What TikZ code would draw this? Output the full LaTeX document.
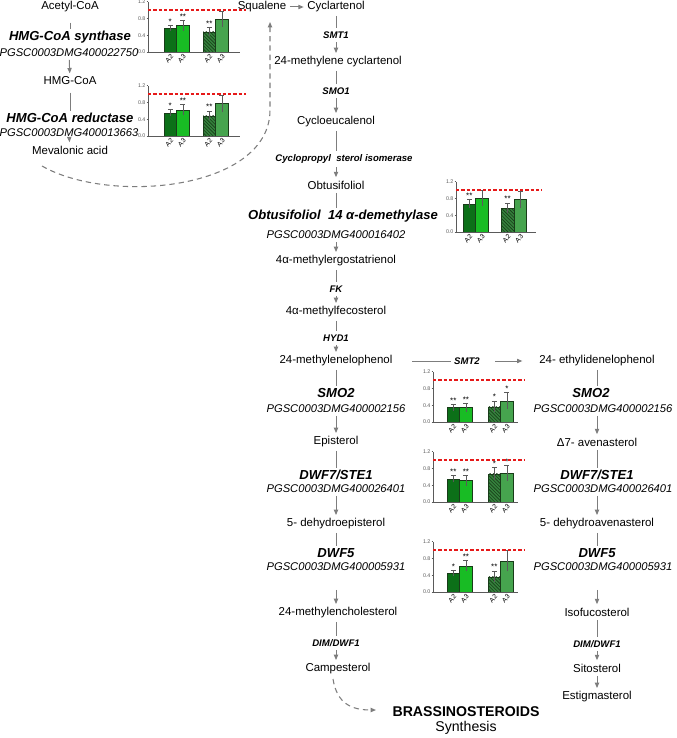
\documentclass[tikz,border=0pt]{standalone}
\usepackage{fontspec}
\setmainfont{Liberation Sans}
\usetikzlibrary{arrows.meta}
\definecolor{gc0}{RGB}{12,112,24}
\definecolor{gc1}{RGB}{24,188,36}
\definecolor{gc2}{RGB}{52,130,60}
\definecolor{gc3}{RGB}{70,164,78}
\definecolor{gO}{RGB}{25,60,25}
\definecolor{cn}{RGB}{125,125,125}
\definecolor{refred}{RGB}{230,25,25}
\definecolor{tickc}{RGB}{90,90,90}
\tikzset{
 met/.style={font=\fontsize{8.6}{10}\selectfont, inner sep=2.5pt},
 enz/.style={font=\fontsize{9.8}{11}\selectfont\bfseries\itshape, inner sep=1.5pt},
 gene/.style={font=\fontsize{8.4}{10}\selectfont\itshape, inner sep=2pt},
 lab/.style={font=\fontsize{7.2}{8}\selectfont\bfseries\itshape, inner sep=2.5pt},
 ln/.style={draw=cn, line width=0.75pt},
 ar/.style={ln, -{Triangle[length=4pt,width=3.2pt]}},
 dashar/.style={draw=cn, line width=0.8pt, dash pattern=on 4pt off 3pt, -{Triangle[length=4pt,width=3.2pt]}},
 axisc/.style={draw=tickc, line width=0.5pt},
 ticklab/.style={font=\fontsize{4}{4}\selectfont, text=tickc, anchor=east, inner sep=0.6pt},
 xlab/.style={font=\fontsize{5}{6}\selectfont, rotate=45, anchor=east, inner sep=0.5pt},
 starlab/.style={font=\fontsize{6}{6}\selectfont, anchor=south, inner sep=0.5pt},
 errc/.style={draw=tickc, line width=0.5pt},
 refl/.style={draw=refred, line width=1.1pt, dash pattern=on 2.5pt off 1.5pt},
 barb/.style={draw=gO, line width=0.4pt},
 hatchl/.style={draw=gO, line width=0.45pt},
}
% #1 x0, #2 y0 (zero line), #3 offset of first bar, #4 offset of second pair, #5 axis length, #6 list
\newcommand{\gchart}[6]{%
\begin{scope}[shift={(#1,#2)}]
 \foreach \va/\ve/\vs [count=\bi from 0] in {#6}{%
  \pgfmathsetmacro\bx{#3+mod(\bi,2)*12.6+(\bi>1)*(#4-#3)}%
  \pgfmathsetmacro\cx{\bx+6.3}%
  \fill[fill=gc\bi] (\bx,0) rectangle ({\bx+12.6},{-\va*42});
  \ifnum\bi=2
   \begin{scope}
    \clip (\bx,0) rectangle ({\bx+12.6},{-\va*42});
    \foreach \h in {0,3.4,...,60} {\draw[hatchl] ({\bx+\h},0) -- ++(-45,-45);}
   \end{scope}
  \fi
  \draw[barb] (\bx,0) rectangle ({\bx+12.6},{-\va*42});
  \draw[errc] (\cx,{-(\va-\ve)*42}) -- (\cx,{-(\va+\ve)*42})
              ({\cx-2.5},{-(\va+\ve)*42}) -- ({\cx+2.5},{-(\va+\ve)*42});
  \node[starlab] at (\cx,{-(\va+\ve)*42-0.5}) {\vs};
  \node[xlab] at ({\cx+2.5},3) {\ifodd\bi A3\else A2\fi};
 }
 \draw[axisc] (0,0) -- (0,-50.4);
 \draw[axisc] (0,0) -- (#5,0);
 \foreach \t in {0.0,0.4,0.8,1.2}{%
  \draw[axisc] (-1.5,-\t*42) -- (0,-\t*42);
  \node[ticklab] at (-1.5,-\t*42) {\t};
 }
 \draw[refl] (0,-42) -- ({#5+6},-42);
\end{scope}}

\begin{document}
\begin{tikzpicture}[x=0.75pt,y=-0.75pt]
\useasboundingbox (0,0) rectangle (676,738);

% left column
\node[met] (acet) at (70,7) {Acetyl-CoA};
\node[enz] (hmgs) at (70,37) {HMG-CoA synthase};
\node[gene] (g1) at (69,53) {PGSC0003DMG400022750};
\node[met] (hmgcoa) at (70,81) {HMG-CoA};
\node[enz] (hmgr) at (70,118) {HMG-CoA reductase};
\node[gene] (g2) at (69,133) {PGSC0003DMG400013663};
\node[met] (mev) at (70,150) {Mevalonic acid};

% middle column
\node[met] (squa) at (262,7) {Squalene};
\node[met] (cycl) at (336,7) {Cyclartenol};
\node[lab] (smt1) at (336,35) {SMT1};
\node[met] (mcyc) at (338,62) {24-methylene cyclartenol};
\node[lab] (smo1) at (336,91) {SMO1};
\node[met] (cyce) at (336,122) {Cycloeucalenol};
\node[lab] (cpsi) at (344,159) {Cyclopropyl\ \ sterol isomerase};
\node[met] (obt) at (336,185) {Obtusifoliol};
\node[enz] (dem) at (343,216) {Obtusifoliol\ \ 14\ α-demethylase};
\node[gene] (g3) at (336,235) {PGSC0003DMG400016402};
\node[met] (merg) at (336,261) {4α-methylergostatrienol};
\node[lab] (fk) at (336,289) {FK};
\node[met] (mfec) at (336,312) {4α-methylfecosterol};
\node[lab] (hyd1) at (336,338) {HYD1};
\node[met] (loph) at (336,361) {24-methylenelophenol};
\node[enz] (smo2) at (336,393) {SMO2};
\node[gene] (g4) at (336,409) {PGSC0003DMG400002156};
\node[met] (epi) at (336,442) {Episterol};
\node[enz] (dwf7) at (336,475) {DWF7/STE1};
\node[gene] (g5) at (336,489) {PGSC0003DMG400026401};
\node[met] (dhe) at (336,524) {5- dehydroepisterol};
\node[enz] (dwf5) at (336,553) {DWF5};
\node[gene] (g6) at (336,567) {PGSC0003DMG400005931};
\node[met] (mch) at (338,613) {24-methylencholesterol};
\node[lab] (dim) at (336,643) {DIM/DWF1};
\node[met] (camp) at (338,669) {Campesterol};
\node[font=\fontsize{10.6}{12}\selectfont\bfseries, inner sep=1pt] (brass) at (466,712) {BRASSINOSTEROIDS};
\node[font=\fontsize{10.6}{12}\selectfont, inner sep=1pt] (synth) at (466,728) {Synthesis};

% right column
\node[lab] (smt2) at (467,361) {SMT2};
\node[met] (ethl) at (597,361) {24- ethylidenelophenol};
\node[enz] (smo2r) at (591,393) {SMO2};
\node[gene] (g4r) at (603,409) {PGSC0003DMG400002156};
\node[met] (ave) at (597,442) {Δ7- avenasterol};
\node[enz] (dwf7r) at (597,475) {DWF7/STE1};
\node[gene] (g5r) at (603,489) {PGSC0003DMG400026401};
\node[met] (dha) at (597,524) {5- dehydroavenasterol};
\node[enz] (dwf5r) at (597,553) {DWF5};
\node[gene] (g6r) at (603,567) {PGSC0003DMG400005931};
\node[met] (isof) at (597,612) {Isofucosterol};
\node[lab] (dimr) at (597,644) {DIM/DWF1};
\node[met] (sito) at (597,668) {Sitosterol};
\node[met] (estg) at (597,697) {Estigmasterol};

% left connectors
\draw[ln, shorten <=5pt] (acet) -- (hmgs);
\draw[ar] (g1) -- (hmgcoa);
\draw[ln, shorten <=3pt] (hmgcoa) -- (hmgr);
\draw[ar] (g2) -- (mev);

% middle connectors
\draw[ar] (squa) -- (cycl);
\draw[ln] (cycl) -- (smt1);
\draw[ar] (smt1) -- (smt1 |- mcyc.north);
\draw[ln] (smt1 |- mcyc.south) -- (smo1);
\draw[ar] (smo1) -- (cyce);
\draw[ln] (cyce) -- (cyce |- cpsi.north);
\draw[ar] (cyce |- cpsi.south) -- (obt);
\draw[ln] (obt) -- (obt |- dem.north);
\draw[ar] (g3) -- (merg);
\draw[ln] (merg) -- (fk);
\draw[ar] (fk) -- (mfec);
\draw[ln] (mfec) -- (hyd1);
\draw[ar] (hyd1) -- (loph);
\draw[ln] (loph) -- (smo2);
\draw[ar] (g4) -- (epi);
\draw[ln] (epi) -- (dwf7);
\draw[ar] (g5) -- (dhe);
\draw[ln] (dhe) -- (dwf5);
\draw[ar, shorten <=12pt] (g6) -- (g6 |- mch.north);
\draw[ln] (g6 |- mch.south) -- (dim);
\draw[ar] (dim) -- (dim |- camp.north);

% horizontal SMT2
\draw[ln, shorten <=12pt] (loph.east) -- (smt2.west);
\draw[ar, shorten <=9pt, shorten >=10pt] (smt2.east) -- (ethl.west);

% right connectors
\draw[ln] (ethl) -- (ethl |- smo2r.north);
\draw[ar] (ethl |- g4r.south) -- (ave);
\draw[ln] (ave) -- (dwf7r);
\draw[ar] (ave |- g5r.south) -- (dha);
\draw[ln] (dha) -- (dwf5r);
\draw[ar, shorten <=12pt] (isof |- g6r.south) -- (isof);
\draw[ln] (isof) -- (dimr);
\draw[ar] (dimr) -- (sito);
\draw[ar] (sito) -- (estg);

% dashed connectors
\coordinate (mevs) at (42,166);
\coordinate (sqin) at (270,22);
\draw[dashar] (mevs) .. controls (110,205) and (270,190) .. (270,110) -- (sqin);
\coordinate (campo) at (333,679);
\coordinate (brin) at (376,710);
\draw[dashar] (campo) .. controls (337,704) and (352,710) .. (brin);

% charts
\gchart{148}{52}{16}{55}{92}{0.57/0.06/*, 0.63/0.12/**, 0.48/0.1/**, 0.78/0.18/{}}
\gchart{148}{136}{16}{55}{92}{0.55/0.08/*, 0.62/0.13/**, 0.48/0.11/**, 0.77/0.2/{}}
\gchart{456}{232}{7}{45.3}{80}{0.67/0.1/**, 0.81/0.18/{}, 0.57/0.12/**, 0.77/0.2/{}}
\gchart{433}{422}{14}{55}{85}{0.34/0.07/**, 0.34/0.1/**, 0.36/0.13/*, 0.5/0.2/*}
\gchart{433}{502}{14}{55}{85}{0.55/0.08/**, 0.51/0.12/**, 0.67/0.15/*, 0.69/0.18/*}
\gchart{433}{592}{14}{55}{85}{0.44/0.07/*, 0.62/0.13/**, 0.36/0.13/**, 0.74/0.25/{}}
\end{tikzpicture}
\end{document}
